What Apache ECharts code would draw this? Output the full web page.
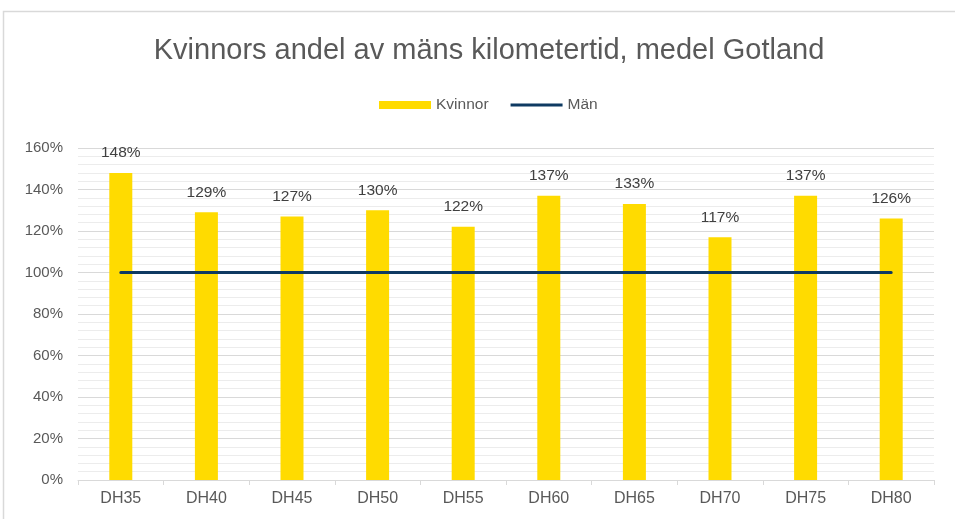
<!DOCTYPE html>
<html>
<head>
<meta charset="utf-8">
<script src="https://cdn.jsdelivr.net/npm/echarts@6/dist/echarts.min.js"></script>
<style>
  html, body { margin: 0; padding: 0; background: #fff; }
  #main { width: 955px; height: 519px; }
</style>
</head>
<body>
<div id="main"></div>
<script>
const categories = ['DH35', 'DH40', 'DH45', 'DH50', 'DH55', 'DH60', 'DH65', 'DH70', 'DH75', 'DH80'];
const kvinnor = [1.48, 1.29, 1.27, 1.30, 1.22, 1.37, 1.33, 1.17, 1.37, 1.26];
const man = [1, 1, 1, 1, 1, 1, 1, 1, 1, 1];

// CHART
function getChart() {
    let chartDom = document.getElementById('main');
    let myChart = echarts.init(chartDom);
    let font = 'Liberation Sans, Arial, sans-serif';
    let option = {
        animation: false,
        textStyle: { fontFamily: font },
        graphic: [{
            type: 'rect',
            shape: { x: 3.5, y: 11.5, width: 1000, height: 600 },
            style: { fill: 'none', stroke: '#d9d9d9', lineWidth: 1.5 },
            silent: true
        }],
        title: {
            left: 484,
            textAlign: 'center',
            top: 31,
            text: 'Kvinnors andel av mäns kilometertid, medel Gotland',
            textStyle: { fontSize: 29, fontWeight: 'normal', color: '#595959', fontFamily: font }
        },
        legend: {
            top: 92,
            left: 374,
            itemGap: 22,
            itemWidth: 52,
            itemHeight: 8,
            textStyle: { fontSize: 15.5, color: '#595959', fontFamily: font },
            data: [
                { name: 'Kvinnor', icon: 'rect' },
                { name: 'Män', icon: 'path://M0,0 L52,0 L52,3 L0,3 Z' }
            ]
        },
        grid: { left: 78, right: 21, top: 148, bottom: 39, containLabel: false },
        xAxis: {
            type: 'category',
            data: categories,
            axisLine: { lineStyle: { color: '#d9d9d9', width: 1 } },
            axisTick: { show: true, length: 5, lineStyle: { color: '#d9d9d9' } },
            axisLabel: { fontSize: 16, color: '#595959', margin: 11, fontFamily: font }
        },
        yAxis: {
            type: 'value',
            min: 0,
            max: 1.6,
            interval: 0.2,
            axisLine: { show: false },
            axisTick: { show: false },
            axisLabel: {
                fontSize: 15, color: '#595959', margin: 15, fontFamily: font,
                formatter: v => Math.round(v * 100) + '%'
            },
            splitLine: { lineStyle: { color: '#d9d9d9', width: 1 } },
            minorTick: { show: false, splitNumber: 5 },
            minorSplitLine: { show: true, lineStyle: { color: '#ececec', width: 1 } }
        },
        series: [{
            name: 'Kvinnor',
            type: 'bar',
            data: kvinnor,
            barWidth: 23,
            itemStyle: { color: '#ffdb00' },
            label: {
                show: true,
                position: 'top',
                distance: 12,
                fontSize: 15.5,
                color: '#404040',
                fontFamily: font,
                formatter: p => Math.round(p.value * 100) + '%'
            }
        }, {
            name: 'Män',
            type: 'line',
            data: man,
            symbol: 'none',
            lineStyle: { color: '#0e3a62', width: 3, cap: 'round' },
            itemStyle: { color: '#0e3a62' }
        }]
    };
    option && myChart.setOption(option);
}

window.addEventListener("load", getChart);
</script>
</body>
</html>
